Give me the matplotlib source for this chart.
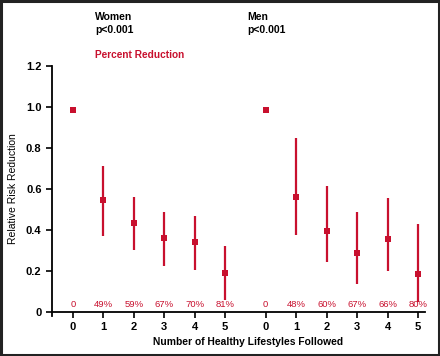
import numpy as np
import matplotlib.pyplot as plt
from matplotlib.patches import Rectangle

plt.rcParams['font.family'] = ['Liberation Sans', 'DejaVu Sans']

red = '#c8102e'

lifestyles = [0, 1, 2, 3, 4, 5]
women_rr = [0.985, 0.545, 0.434, 0.361, 0.34, 0.19]
women_lo = [0.985, 0.37, 0.30, 0.224, 0.203, 0.059]
women_hi = [0.985, 0.71, 0.56, 0.486, 0.467, 0.32]
women_pct = ['0', '49%', '59%', '67%', '70%', '81%']

men_rr = [0.985, 0.562, 0.394, 0.289, 0.355, 0.184]
men_lo = [0.985, 0.377, 0.242, 0.137, 0.20, 0.05]
men_hi = [0.985, 0.847, 0.613, 0.486, 0.555, 0.43]
men_pct = ['0', '48%', '60%', '67%', '66%', '80%']

gap = 6.33
xw = np.array(lifestyles, dtype=float)
xm = xw + gap

fig = plt.figure(figsize=(4.4, 3.56), dpi=100)
ax = fig.add_axes([0.118, 0.1236, 0.848, 0.691])

for x, rr, lo, hi in [(xw, women_rr, women_lo, women_hi), (xm, men_rr, men_lo, men_hi)]:
    rr = np.array(rr)
    err = [rr - np.array(lo), np.array(hi) - rr]
    ax.errorbar(x, rr, yerr=err, fmt='s', color=red, ms=5, elinewidth=1.6,
                capsize=0, mew=0)

for x, labs in [(xw, women_pct), (xm, men_pct)]:
    for xi, t in zip(x, labs):
        ax.text(xi, 0.015, t, color=red, fontsize=6.8, ha='center', va='bottom')

ax.set_xlim(-0.69, 11.56)
ax.set_ylim(0, 1.2)
ax.set_xticks(np.concatenate([xw, xm]))
ax.set_xticklabels([str(v) for v in lifestyles] * 2)
ax.set_yticks([0, 0.2, 0.4, 0.6, 0.8, 1.0, 1.2])
ax.set_yticklabels(['0', '0.2', '0.4', '0.6', '0.8', '1.0', '1.2'])
ax.tick_params(axis='both', labelsize=8, length=4, width=1.2, direction='out')
for lab in ax.get_xticklabels() + ax.get_yticklabels():
    lab.set_fontweight('bold')
ax.spines['top'].set_visible(False)
ax.spines['right'].set_visible(False)
ax.spines['left'].set_linewidth(1.3)
ax.spines['bottom'].set_linewidth(1.3)
ax.spines['left'].set_bounds(-0.02, 1.2)

ax.set_xlabel('Number of Healthy Lifestyles Followed', fontsize=7.4, fontweight='bold')
ax.xaxis.set_label_coords(0.525, -0.1)
ax.set_ylabel('Relative Risk Reduction', fontsize=7.5, labelpad=6)

fig.text(95 / 440, 1 - 17 / 356, 'Women', fontsize=7.5, fontweight='bold', va='center')
fig.text(95 / 440, 1 - 30 / 356, 'p<0.001', fontsize=7.5, fontweight='bold', va='center')
fig.text(95 / 440, 1 - 55 / 356, 'Percent Reduction', fontsize=7.3, fontweight='bold',
         color=red, va='center')
fig.text(247 / 440, 1 - 17 / 356, 'Men', fontsize=7.5, fontweight='bold', va='center')
fig.text(247 / 440, 1 - 30 / 356, 'p<0.001', fontsize=7.5, fontweight='bold', va='center')

fig.patches.append(Rectangle((0.003, 0.004), 0.994, 0.992, transform=fig.transFigure,
                             fill=False, edgecolor='#222222', linewidth=2.2))

fig.savefig('out.png', dpi=100)
